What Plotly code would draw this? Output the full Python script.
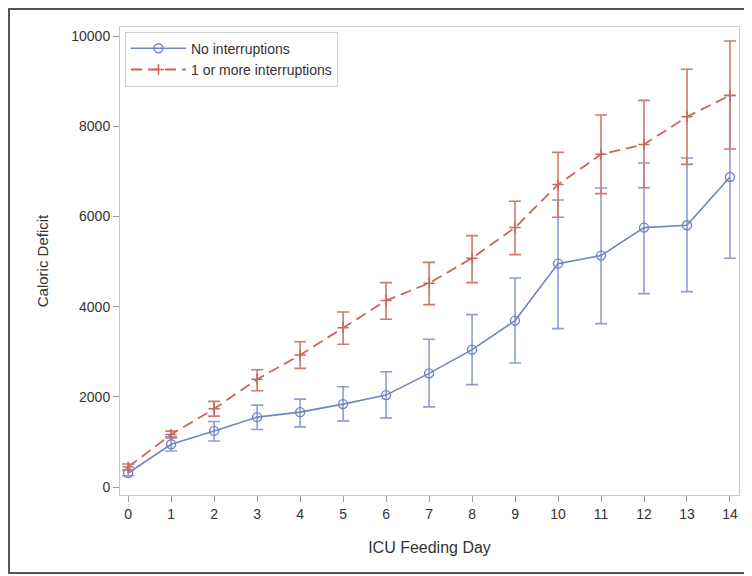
import plotly.graph_objects as go

days = list(range(15))
tick_labels = [str(d) for d in days]
y_ticks = [0, 2000, 4000, 6000, 8000, 10000]
y_tick_labels = ["0", "2000", "4000", "6000", "8000", "10000"]

no_int_mean = [311, 949, 1244, 1549, 1660, 1838, 2038, 2520, 3047, 3690, 4953, 5131, 5752, 5803, 6874]
no_int_lower = [250, 800, 1022, 1276, 1333, 1467, 1533, 1778, 2271, 2749, 3512, 3623, 4288, 4332, 5071]
no_int_upper = [372, 1111, 1453, 1816, 1949, 2222, 2556, 3276, 3823, 4634, 6364, 6630, 7184, 7295, 8677]

int_mean = [444, 1164, 1733, 2387, 2927, 3533, 4133, 4520, 5075, 5752, 6705, 7377, 7595, 8210, 8685]
int_lower = [380, 1090, 1571, 2133, 2631, 3164, 3720, 4045, 4532, 5153, 5980, 6505, 6636, 7155, 7494]
int_upper = [510, 1240, 1898, 2600, 3222, 3882, 4533, 4980, 5574, 6335, 7421, 8248, 8574, 9262, 9889]

blue = "#7282c6"
blue_err = "#909cd2"
red = "#c8675c"
red_err = "#d0796d"
FONT = "Liberation Sans, Arial, sans-serif"

fig = go.Figure()
fig.add_trace(go.Scatter(
    x=days, y=no_int_mean, name="No interruptions",
    mode="lines+markers",
    line=dict(color=blue, width=1.6),
    marker=dict(symbol="circle-open", size=9, color=blue, line=dict(width=1.4)),
    error_y=dict(type="data", symmetric=False,
                 array=[u - m for u, m in zip(no_int_upper, no_int_mean)],
                 arrayminus=[m - l for m, l in zip(no_int_mean, no_int_lower)],
                 color=blue_err, thickness=1.6, width=6),
))
fig.add_trace(go.Scatter(
    x=days, y=int_mean, name="1 or more interruptions",
    mode="lines+markers",
    line=dict(color=red, width=1.8, dash="11px,6px"),
    marker=dict(symbol="cross-thin", size=8, color=red, line=dict(width=1.5, color=red)),
    error_y=dict(type="data", symmetric=False,
                 array=[u - m for u, m in zip(int_upper, int_mean)],
                 arrayminus=[m - l for m, l in zip(int_mean, int_lower)],
                 color=red_err, thickness=1.6, width=6),
))

fig.update_layout(
    width=744, height=568,
    margin=dict(l=112, r=13, t=19, b=81),
    paper_bgcolor="white", plot_bgcolor="white",
    font=dict(family=FONT, size=14, color="#333333"),
    showlegend=True,
    legend=dict(x=0.008, y=0.99, xanchor="left", yanchor="top",
                bordercolor="#cfcfcf", borderwidth=1, bgcolor="white",
                font=dict(family=FONT, size=14, color="#333333"),
                tracegroupgap=0, itemwidth=55),
    xaxis=dict(range=[-0.19, 14.21], tickmode="array", tickvals=days, ticktext=tick_labels,
               showgrid=False, zeroline=False, showline=True, linecolor="#c8c8c8", linewidth=1,
               mirror=True, ticks="outside", ticklen=6, tickcolor="#9a9a9a",
               tickfont=dict(size=14, color="#333333"),
               title=dict(text="ICU Feeding Day", font=dict(size=16, color="#333333"), standoff=21)),
    yaxis=dict(range=[-177, 10200], tickmode="array", tickvals=y_ticks, ticktext=y_tick_labels,
               showgrid=False, zeroline=False, showline=True, linecolor="#c8c8c8", linewidth=1,
               mirror=True, ticks="outside", ticklen=6, tickcolor="#9a9a9a",
               tickfont=dict(size=14, color="#333333"),
               title=dict(text="Caloric Deficit", font=dict(size=15, color="#333333"), standoff=19)),
    shapes=[dict(type="rect", xref="paper", yref="paper",
                 x0=-0.1793, x1=1.0162, y0=-0.1667, y1=1.0385,
                 line=dict(color="#555555", width=2), fillcolor="rgba(0,0,0,0)", layer="below")],
)

fig.write_html("out.html")
